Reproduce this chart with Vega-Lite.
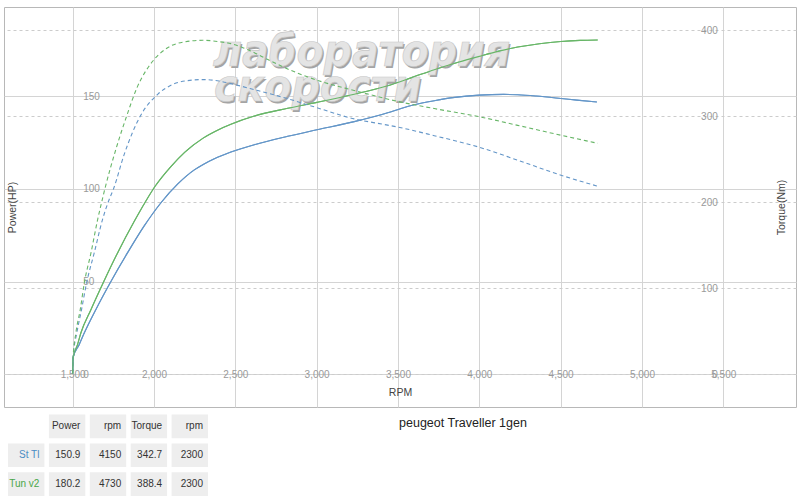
{
  "$schema": "https://vega.github.io/schema/vega-lite/v6.json",
  "background": "white",
  "padding": {"left": 3, "top": 6, "right": 5, "bottom": 0},
  "spacing": 0,
  "config": {
    "font": "Liberation Sans",
    "view": {"stroke": "#b8b8b8", "strokeWidth": 1},
    "axis": {
      "domain": false,
      "ticks": false,
      "labelFontSize": 10,
      "labelColor": "#9a9a9a",
      "titleFontSize": 10.5,
      "titleColor": "#444444",
      "titleFontWeight": "normal",
      "gridColor": "#d4d4d4",
      "gridWidth": 1
    }
  },
  "datasets": {
    "power": [
      {"run": "St Tl", "rpm": 1500, "hp": 0.5},
      {"run": "St Tl", "rpm": 1503, "hp": 9},
      {"run": "St Tl", "rpm": 1540, "hp": 16},
      {"run": "St Tl", "rpm": 1572, "hp": 22.4},
      {"run": "St Tl", "rpm": 1643, "hp": 35},
      {"run": "St Tl", "rpm": 1731, "hp": 49.4},
      {"run": "St Tl", "rpm": 1838, "hp": 65.6},
      {"run": "St Tl", "rpm": 1940, "hp": 80},
      {"run": "St Tl", "rpm": 2043, "hp": 92.5},
      {"run": "St Tl", "rpm": 2145, "hp": 102.5},
      {"run": "St Tl", "rpm": 2248, "hp": 110.2},
      {"run": "St Tl", "rpm": 2300, "hp": 113},
      {"run": "St Tl", "rpm": 2371, "hp": 116.2},
      {"run": "St Tl", "rpm": 2473, "hp": 119.8},
      {"run": "St Tl", "rpm": 2617, "hp": 123.8},
      {"run": "St Tl", "rpm": 2822, "hp": 128.3},
      {"run": "St Tl", "rpm": 3002, "hp": 131.8},
      {"run": "St Tl", "rpm": 3231, "hp": 136.2},
      {"run": "St Tl", "rpm": 3437, "hp": 141},
      {"run": "St Tl", "rpm": 3519, "hp": 143.3},
      {"run": "St Tl", "rpm": 3600, "hp": 145.3},
      {"run": "St Tl", "rpm": 3723, "hp": 147.5},
      {"run": "St Tl", "rpm": 3850, "hp": 149.3},
      {"run": "St Tl", "rpm": 4000, "hp": 150.5},
      {"run": "St Tl", "rpm": 4150, "hp": 150.9},
      {"run": "St Tl", "rpm": 4236, "hp": 150.7},
      {"run": "St Tl", "rpm": 4350, "hp": 150},
      {"run": "St Tl", "rpm": 4502, "hp": 148.7},
      {"run": "St Tl", "rpm": 4600, "hp": 147.8},
      {"run": "St Tl", "rpm": 4723, "hp": 146.8},
      {"run": "Tun v2", "rpm": 1500, "hp": 0.5},
      {"run": "Tun v2", "rpm": 1503, "hp": 9},
      {"run": "Tun v2", "rpm": 1530, "hp": 16},
      {"run": "Tun v2", "rpm": 1551, "hp": 22.4},
      {"run": "Tun v2", "rpm": 1613, "hp": 35},
      {"run": "Tun v2", "rpm": 1688, "hp": 49.4},
      {"run": "Tun v2", "rpm": 1777, "hp": 65.6},
      {"run": "Tun v2", "rpm": 1879, "hp": 82.5},
      {"run": "Tun v2", "rpm": 1944, "hp": 92.5},
      {"run": "Tun v2", "rpm": 2008, "hp": 101.5},
      {"run": "Tun v2", "rpm": 2104, "hp": 112},
      {"run": "Tun v2", "rpm": 2190, "hp": 119.8},
      {"run": "Tun v2", "rpm": 2300, "hp": 127.2},
      {"run": "Tun v2", "rpm": 2400, "hp": 132},
      {"run": "Tun v2", "rpm": 2473, "hp": 134.8},
      {"run": "Tun v2", "rpm": 2617, "hp": 139.2},
      {"run": "Tun v2", "rpm": 2822, "hp": 143.4},
      {"run": "Tun v2", "rpm": 3002, "hp": 146.6},
      {"run": "Tun v2", "rpm": 3231, "hp": 151},
      {"run": "Tun v2", "rpm": 3437, "hp": 155.6},
      {"run": "Tun v2", "rpm": 3580, "hp": 159.8},
      {"run": "Tun v2", "rpm": 3723, "hp": 164.2},
      {"run": "Tun v2", "rpm": 3870, "hp": 168.2},
      {"run": "Tun v2", "rpm": 4000, "hp": 171.4},
      {"run": "Tun v2", "rpm": 4120, "hp": 174.2},
      {"run": "Tun v2", "rpm": 4236, "hp": 176.4},
      {"run": "Tun v2", "rpm": 4370, "hp": 178.2},
      {"run": "Tun v2", "rpm": 4502, "hp": 179.4},
      {"run": "Tun v2", "rpm": 4620, "hp": 180},
      {"run": "Tun v2", "rpm": 4728, "hp": 180.2}
    ],
    "torque": [
      {"run": "St Tl", "rpm": 1500, "nm": 1},
      {"run": "St Tl", "rpm": 1503, "nm": 20},
      {"run": "St Tl", "rpm": 1526, "nm": 48.4},
      {"run": "St Tl", "rpm": 1555, "nm": 75.6},
      {"run": "St Tl", "rpm": 1586, "nm": 106.5},
      {"run": "St Tl", "rpm": 1633, "nm": 141.4},
      {"run": "St Tl", "rpm": 1684, "nm": 180.2},
      {"run": "St Tl", "rpm": 1721, "nm": 201.5},
      {"run": "St Tl", "rpm": 1752, "nm": 216},
      {"run": "St Tl", "rpm": 1817, "nm": 255.8},
      {"run": "St Tl", "rpm": 1916, "nm": 300.3},
      {"run": "St Tl", "rpm": 2023, "nm": 325.6},
      {"run": "St Tl", "rpm": 2115, "nm": 337},
      {"run": "St Tl", "rpm": 2200, "nm": 341.3},
      {"run": "St Tl", "rpm": 2300, "nm": 342.7},
      {"run": "St Tl", "rpm": 2400, "nm": 341},
      {"run": "St Tl", "rpm": 2494, "nm": 337},
      {"run": "St Tl", "rpm": 2617, "nm": 331},
      {"run": "St Tl", "rpm": 2822, "nm": 320.5},
      {"run": "St Tl", "rpm": 3002, "nm": 310},
      {"run": "St Tl", "rpm": 3231, "nm": 297},
      {"run": "St Tl", "rpm": 3400, "nm": 291},
      {"run": "St Tl", "rpm": 3519, "nm": 286.7},
      {"run": "St Tl", "rpm": 3723, "nm": 277.5},
      {"run": "St Tl", "rpm": 4000, "nm": 264},
      {"run": "St Tl", "rpm": 4236, "nm": 249},
      {"run": "St Tl", "rpm": 4502, "nm": 231.5},
      {"run": "St Tl", "rpm": 4723, "nm": 219},
      {"run": "Tun v2", "rpm": 1500, "nm": 1},
      {"run": "Tun v2", "rpm": 1503, "nm": 20},
      {"run": "Tun v2", "rpm": 1520, "nm": 48.4},
      {"run": "Tun v2", "rpm": 1547, "nm": 75.6},
      {"run": "Tun v2", "rpm": 1572, "nm": 106.5},
      {"run": "Tun v2", "rpm": 1613, "nm": 141.4},
      {"run": "Tun v2", "rpm": 1654, "nm": 180.2},
      {"run": "Tun v2", "rpm": 1680, "nm": 201.5},
      {"run": "Tun v2", "rpm": 1700, "nm": 217},
      {"run": "Tun v2", "rpm": 1768, "nm": 263},
      {"run": "Tun v2", "rpm": 1832, "nm": 300.3},
      {"run": "Tun v2", "rpm": 1895, "nm": 333},
      {"run": "Tun v2", "rpm": 1992, "nm": 364},
      {"run": "Tun v2", "rpm": 2084, "nm": 379.8},
      {"run": "Tun v2", "rpm": 2190, "nm": 386.6},
      {"run": "Tun v2", "rpm": 2300, "nm": 388.4},
      {"run": "Tun v2", "rpm": 2400, "nm": 386.8},
      {"run": "Tun v2", "rpm": 2473, "nm": 384.5},
      {"run": "Tun v2", "rpm": 2550, "nm": 379.5},
      {"run": "Tun v2", "rpm": 2617, "nm": 374},
      {"run": "Tun v2", "rpm": 2700, "nm": 366},
      {"run": "Tun v2", "rpm": 2822, "nm": 355},
      {"run": "Tun v2", "rpm": 2900, "nm": 349},
      {"run": "Tun v2", "rpm": 3002, "nm": 342},
      {"run": "Tun v2", "rpm": 3231, "nm": 330},
      {"run": "Tun v2", "rpm": 3519, "nm": 316.5},
      {"run": "Tun v2", "rpm": 3723, "nm": 309},
      {"run": "Tun v2", "rpm": 4000, "nm": 299.5},
      {"run": "Tun v2", "rpm": 4236, "nm": 289.5},
      {"run": "Tun v2", "rpm": 4502, "nm": 278},
      {"run": "Tun v2", "rpm": 4728, "nm": 268.6}
    ],
    "summary": [
      {"row": "head", "col": "Power", "text": "Power"},
      {"row": "head", "col": "rpm", "text": "rpm"},
      {"row": "head", "col": "Torque", "text": "Torque"},
      {"row": "head", "col": "rpm2", "text": "rpm"},
      {"row": "St Tl", "col": "name", "text": "St Tl"},
      {"row": "St Tl", "col": "Power", "text": "150.9"},
      {"row": "St Tl", "col": "rpm", "text": "4150"},
      {"row": "St Tl", "col": "Torque", "text": "342.7"},
      {"row": "St Tl", "col": "rpm2", "text": "2300"},
      {"row": "Tun v2", "col": "name", "text": "Tun v2"},
      {"row": "Tun v2", "col": "Power", "text": "180.2"},
      {"row": "Tun v2", "col": "rpm", "text": "4730"},
      {"row": "Tun v2", "col": "Torque", "text": "388.4"},
      {"row": "Tun v2", "col": "rpm2", "text": "2300"}
    ]
  },
  "vconcat": [
    {
      "width": 792,
      "height": 400,
      "layer": [
        {
          "layer": [
            {
              "data": {"name": "power"},
              "mark": {"type": "line", "interpolate": "monotone", "strokeWidth": 1.1},
              "encoding": {
                "x": {
                  "field": "rpm", "type": "quantitative",
                  "scale": {"domain": [1078, 5947], "nice": false, "zero": false},
                  "axis": {
                    "grid": true,
                    "values": [1500, 2000, 2500, 3000, 3500, 4000, 4500, 5000, 5500],
                    "format": ",d",
                    "offset": -33,
                    "labelBaseline": "middle",
                    "labelPadding": 0,
                    "labelFlush": false,
                    "labelOverlap": false,
                    "title": "RPM",
                    "titleX": 396,
                    "titleY": 18,
                    "titleBaseline": "middle"
                  }
                },
                "y": {
                  "field": "hp", "type": "quantitative",
                  "scale": {"domain": [-17.6, 198], "nice": false, "zero": false},
                  "axis": {
                    "grid": true,
                    "orient": "left",
                    "values": [0, 50, 100, 150],
                    "offset": -68.7,
                    "labelAlign": "left",
                    "labelBaseline": "middle",
                    "labelPadding": -10,
                    "title": "Power(HP)",
                    "titleX": -60,
                    "titleY": 200,
                    "titleAlign": "center",
                    "titleBaseline": "middle"
                  }
                },
                "color": {"field": "run", "type": "nominal", "scale": {"domain": ["St Tl", "Tun v2"], "range": ["#6496c8", "#68b668"]}, "legend": null}
              }
            },
            {
              "data": {"values": [{}]},
              "mark": {"type": "text", "text": "лаборатория", "font": "DejaVu Sans Condensed, DejaVu Sans, sans-serif", "fontSize": 44, "fontWeight": "bold", "fontStyle": "italic", "align": "left", "baseline": "alphabetic", "fill": "#a4a4a4", "dx": 1.5, "dy": 1.5},
              "encoding": {"x": {"datum": 2363, "type": "quantitative"}, "y": {"datum": 166, "type": "quantitative"}}
            },
            {
              "data": {"values": [{}]},
              "mark": {"type": "text", "text": "лаборатория", "font": "DejaVu Sans Condensed, DejaVu Sans, sans-serif", "fontSize": 44, "fontWeight": "bold", "fontStyle": "italic", "align": "left", "baseline": "alphabetic", "fill": "#e4e4e4", "stroke": "#c8c8c8", "strokeWidth": 0.6},
              "encoding": {"x": {"datum": 2363, "type": "quantitative"}, "y": {"datum": 166, "type": "quantitative"}}
            },
            {
              "data": {"values": [{}]},
              "mark": {"type": "text", "text": "скорости", "font": "DejaVu Sans Condensed, DejaVu Sans, sans-serif", "fontSize": 44, "fontWeight": "bold", "fontStyle": "italic", "align": "left", "baseline": "alphabetic", "fill": "#a4a4a4", "dx": 1.5, "dy": 1.5},
              "encoding": {"x": {"datum": 2369, "type": "quantitative"}, "y": {"datum": 147.3, "type": "quantitative"}}
            },
            {
              "data": {"values": [{}]},
              "mark": {"type": "text", "text": "скорости", "font": "DejaVu Sans Condensed, DejaVu Sans, sans-serif", "fontSize": 44, "fontWeight": "bold", "fontStyle": "italic", "align": "left", "baseline": "alphabetic", "fill": "#e4e4e4", "stroke": "#c8c8c8", "strokeWidth": 0.6},
              "encoding": {"x": {"datum": 2369, "type": "quantitative"}, "y": {"datum": 147.3, "type": "quantitative"}}
            },
            {
              "data": {"name": "power"},
              "mark": {"type": "line", "interpolate": "monotone", "strokeWidth": 1.1},
              "encoding": {
                "x": {"field": "rpm", "type": "quantitative"},
                "y": {"field": "hp", "type": "quantitative"},
                "color": {"field": "run", "type": "nominal", "scale": {"domain": ["St Tl", "Tun v2"], "range": ["#6496c8", "#68b668"]}, "legend": null}
              }
            }
          ]
        },
        {
          "data": {"name": "torque"},
          "mark": {"type": "line", "interpolate": "monotone", "strokeWidth": 1.1, "strokeDash": [4, 3]},
          "encoding": {
            "x": {"field": "rpm", "type": "quantitative"},
            "y": {
              "field": "nm", "type": "quantitative",
              "scale": {"domain": [-38, 427.1], "nice": false, "zero": false},
              "axis": {
                "grid": true,
                "orient": "right",
                "values": [0, 100, 200, 300, 400],
                "offset": -72.7,
                "labelAlign": "right",
                "labelBaseline": "middle",
                "labelPadding": -6,
                "gridDash": [3, 3],
                "gridColor": "#cccccc",
                "title": "Torque(Nm)",
                "titleAngle": 270,
                "titleX": 57.7,
                "titleY": 200,
                "titleAlign": "center",
                "titleBaseline": "middle"
              }
            },
            "color": {"field": "run", "type": "nominal", "scale": {"domain": ["St Tl", "Tun v2"], "range": ["#6496c8", "#68b668"]}, "legend": null}
          }
        }
      ],
      "resolve": {"scale": {"y": "independent"}}
    },
    {
      "width": 792,
      "height": 90,
      "view": {"stroke": null},
      "title": {"text": "peugeot Traveller 1gen", "fontSize": 12.5, "fontWeight": "normal", "color": "#222222", "anchor": "middle", "frame": "group", "dx": 63, "offset": -27, "orient": "top", "baseline": "middle"},
      "data": {"name": "summary"},
      "layer": [
        {
          "mark": {"type": "rect", "color": "#eeeeee"},
          "encoding": {
            "x": {"field": "col", "type": "nominal", "scale": {"domain": ["name", "Power", "rpm", "Torque", "rpm2"], "range": [4, 204], "paddingInner": 0.11, "paddingOuter": 0}, "axis": null},
            "y": {"field": "row", "type": "nominal", "scale": {"domain": ["head", "St Tl", "Tun v2"], "range": [6.5, 88], "paddingInner": 0.18, "paddingOuter": 0}, "axis": null}
          }
        },
        {
          "mark": {"type": "text", "align": "right", "baseline": "middle", "dx": -5, "fontSize": 10},
          "encoding": {
            "x": {"field": "col", "type": "nominal", "bandPosition": 1},
            "y": {"field": "row", "type": "nominal"},
            "text": {"field": "text"},
            "color": {
              "condition": [
                {"test": "datum.col === 'name' && datum.row === 'St Tl'", "value": "#4a8cc4"},
                {"test": "datum.col === 'name' && datum.row === 'Tun v2'", "value": "#4aa64a"}
              ],
              "value": "#333333"
            }
          }
        }
      ]
    }
  ]
}
